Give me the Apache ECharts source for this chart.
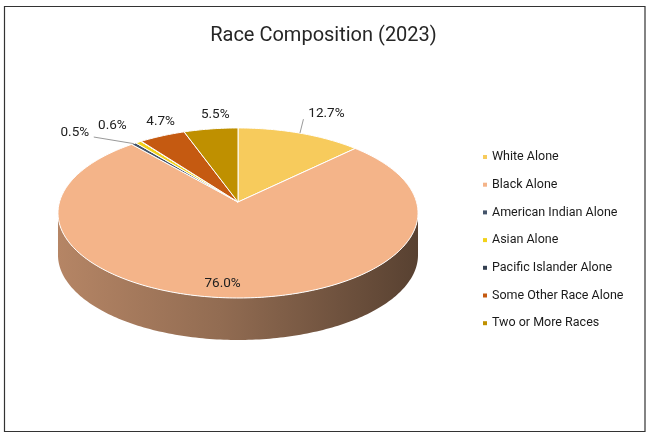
<!DOCTYPE html>
<html><head><meta charset="utf-8">
<script src="https://cdn.jsdelivr.net/npm/echarts@6/dist/echarts.min.js"></script>
<style>html,body{margin:0;padding:0;background:#fff}#c{width:647px;height:434px}</style>
</head><body><div id="c"></div>
<script>
// ---- data ----
const categories = ['White Alone','Black Alone','American Indian Alone','Asian Alone','Pacific Islander Alone','Some Other Race Alone','Two or More Races'];
const percentages = [12.7, 76.0, 0.5, 0.6, 0.04, 4.7, 5.5];
const titleText = 'Race Composition (2023)';

// ---- styling / layout ----
const colors = ['#F7CB5C','#F4B489','#44546A','#F2D21A','#333F50','#C55A11','#BF9000'];
const G = {cx:238, cy:202, R:178.5, Ry:83.6, p:0.129, h:42};
// label placement relative to slice outer edge (or inside for 'inside')
const labelLayout = [
  {dx:26.5, dy:-20, line:[-23,6]},
  {inside:0.85, dx:-8, dy:0},
  {dx:-59, dy:-10.6, line:[19,4]},
  {dx:-26, dy:-17},
  null,
  {dx:-1.5, dy:-14},
  {dx:4.5, dy:-14}
];

const total = percentages.reduce((a,b)=>a+b,0);
const starts = []; let acc = 0;
percentages.forEach(v=>{ starts.push(acc/total*Math.PI*2); acc+=v; });

function pt(t, k){ const s = 1/(1+G.p*Math.cos(t)); return [G.cx + k*G.R*Math.sin(t)*s, G.cy - k*G.Ry*Math.cos(t)*s]; }
function arc(a,b,k,dy){ const pts=[]; const n=Math.max(2,Math.ceil((b-a)/(Math.PI/180))); for(let j=0;j<=n;j++){ const t=a+(b-a)*j/n; const q=pt(t,k); pts.push([q[0],q[1]+(dy||0)]);} return pts; }
function shade(hex,f){ const n=parseInt(hex.slice(1),16); const r=Math.round(((n>>16)&255)*f), g=Math.round(((n>>8)&255)*f), b=Math.round((n&255)*f); return 'rgb('+r+','+g+','+b+')'; }

const wA = Math.acos(-G.p), wB = Math.PI*2 - Math.acos(-G.p);

function makeRender(i){
  return function(params, api){
    const a = starts[i], b = a + api.value(0)/total*Math.PI*2;
    const children = [];
    // side wall
    const s = Math.max(a,wA), e = Math.min(b,wB);
    if (e > s){
      const top = arc(s,e,1,0), bot = arc(s,e,1,G.h).reverse();
      children.push({type:'polygon', shape:{points: top.concat(bot)}, style:{
        fill:{type:'linear',x:0,y:0,x2:1,y2:0,colorStops:[
          {offset:0,color:shade(colors[i],0.74)},{offset:0.45,color:shade(colors[i],0.6)},{offset:1,color:shade(colors[i],0.36)}]},
        stroke:null}});
    }
    // top face
    const face = [[G.cx,G.cy]].concat(arc(a,b,1,0));
    children.push({type:'polygon', shape:{points:face}, style:{fill:colors[i], stroke:'#FFFFFF', lineWidth:1}});
    // label
    const L = labelLayout[i];
    if (L){
      const mid = (a+b)/2;
      const base = pt(mid, L.inside || 1);
      const lx = base[0]+L.dx, ly = base[1]+L.dy;
      if (L.line){
        children.push({type:'line', shape:{x1:base[0],y1:base[1],x2:lx+L.line[0],y2:ly+L.line[1]}, style:{stroke:'#7F7F7F', lineWidth:0.8}});
      }
      children.push({type:'text', x:lx, y:ly, style:{text: api.value(0).toFixed(1)+'%', fill:'#202020', fontSize:13.5, fontFamily:'Roboto', align:'center', verticalAlign:'middle'}});
    }
    return {type:'group', children};
  };
}

const series = categories.map((name,i)=>({
  type:'custom', name, coordinateSystem:'none', silent:true, animation:false,
  itemStyle:{color:colors[i]},
  renderItem: makeRender(i),
  data:[[percentages[i]]]
}));

const chart = echarts.init(document.getElementById('c'), null, {renderer:'canvas'});
chart.setOption({
  backgroundColor:'#fff',
  animation:false,
  title:{text:titleText, left:'center', top:21, textStyle:{fontSize:20, fontWeight:'normal', color:'#262626', fontFamily:'Roboto'}},
  legend:{orient:'vertical', left:478, top:145, itemWidth:4, itemHeight:4, itemGap:13.7, icon:'rect',
    textStyle:{fontSize:12.5, color:'#1a1a1a', fontFamily:'Roboto', lineHeight:14}, data:categories, selectedMode:false},
  graphic:[{type:'rect', shape:{x:4.5,y:6.5,width:640.5,height:425}, style:{fill:'none', stroke:'#333', lineWidth:1.2}, z:-1, silent:true}],
  series
});
</script></body></html>
